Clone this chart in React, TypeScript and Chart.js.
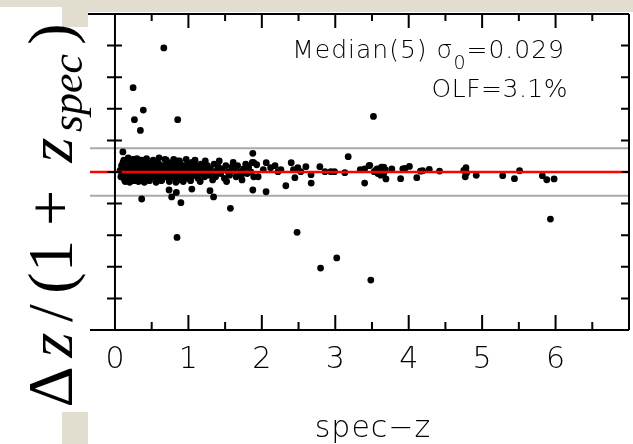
import React, { useEffect, useRef } from "react";
import { Chart, registerables } from "chart.js";

Chart.register(...registerables);

// ---- data ----
const clusterZ = [
  0.07, 0.08, 0.09, 0.10, 0.11, 0.11, 0.12, 0.13, 0.13, 0.14, 0.15, 0.16, 0.16, 0.17, 0.18, 0.19, 0.19, 0.20, 0.21, 0.21,
  0.22, 0.23, 0.23, 0.24, 0.25, 0.25, 0.26, 0.27, 0.27, 0.28, 0.29, 0.29, 0.30, 0.31, 0.31, 0.32, 0.33, 0.33, 0.34, 0.35,
  0.35, 0.36, 0.37, 0.37, 0.38, 0.39, 0.39, 0.40, 0.41, 0.41, 0.42, 0.43, 0.44, 0.44, 0.45, 0.46, 0.46, 0.47, 0.48, 0.48,
  0.49, 0.50,
  0.51, 0.52, 0.53, 0.54, 0.55, 0.56, 0.57, 0.58, 0.59, 0.60, 0.61, 0.62, 0.63, 0.64, 0.65, 0.66, 0.67, 0.68, 0.69, 0.70,
  0.71, 0.72, 0.73, 0.74, 0.75, 0.76, 0.77, 0.78, 0.79, 0.80, 0.81, 0.82, 0.83, 0.84, 0.85, 0.86, 0.87, 0.88, 0.89, 0.90,
  0.91, 0.92, 0.93, 0.94, 0.95, 0.96, 0.97, 0.98, 0.99,
  1.00, 1.02, 1.04, 1.05, 1.07, 1.08, 1.10, 1.12, 1.13, 1.15, 1.17, 1.18, 1.20, 1.22, 1.24, 1.26, 1.28, 1.30, 1.32, 1.35,
  1.37, 1.39, 1.41, 1.44, 1.46, 1.49, 1.51, 1.54, 1.56, 1.59, 1.62, 1.65, 1.67, 1.70, 1.72, 1.75, 1.78, 1.80, 1.82, 1.85,
  1.87, 1.89,
  0.12, 0.14, 0.18, 0.20, 0.24, 0.26, 0.30, 0.32, 0.36, 0.40, 0.43, 0.47, 0.52, 0.56, 0.60, 0.63, 0.70, 0.74, 0.80, 0.83,
  0.88, 0.93, 0.97, 1.03, 1.09, 1.16, 1.23, 1.33, 1.42, 1.52, 1.61, 1.73, 0.15, 0.22, 0.28, 0.34, 0.42, 0.53, 0.62, 0.72,
  0.82, 0.92,
  1.89, 1.93, 1.95, 2.02, 2.06, 2.12, 2.18, 2.22, 2.26, 2.40, 2.43, 2.45, 2.49, 2.53, 2.60, 2.67, 2.79, 2.86, 2.94, 2.99,
  3.13, 3.34, 3.40, 3.46, 3.53,
  3.47, 3.55, 3.57, 3.58, 3.60, 3.60, 3.62, 3.63, 3.64, 3.66, 3.66, 3.68, 3.69, 3.77, 3.89, 3.92, 3.95, 4.01, 4.11, 4.16,
  4.19, 4.28, 4.42, 4.75, 4.77, 4.78, 4.79, 4.92, 5.28, 5.44, 5.51, 5.82, 5.88, 5.98,
];
const clusterDz = [
  0.01, -0.03, 0.04, 0.00, -0.02, 0.06, 0.02, -0.05, 0.03, -0.01, 0.05, 0.01, -0.03, 0.07, 0.02, -0.02, 0.04, 0.00, -0.04, 0.06,
  0.01, -0.01, 0.03, 0.05, -0.03, 0.00, 0.02, -0.02, 0.08, 0.04, -0.04, 0.01, 0.03, -0.01, 0.06, 0.00, -0.03, 0.04, 0.02, -0.05,
  0.01, 0.05, -0.02, 0.03, 0.00, 0.07, -0.04, 0.02, -0.01, 0.04, 0.01, -0.03, 0.03, 0.06, 0.00, -0.02, 0.02, 0.05, -0.04, 0.01,
  0.03, -0.01,
  0.04, 0.00, -0.03, 0.02, 0.06, -0.01, 0.03, -0.04, 0.01, 0.05, -0.02, 0.02, 0.00, -0.05, 0.04, 0.01, -0.02, 0.08, 0.03, -0.03,
  0.00, 0.05, -0.01, 0.02, -0.04, 0.03, 0.00, 0.06, -0.02, 0.01, 0.04, -0.03, 0.02, 0.00, 0.07, -0.05, 0.03, -0.01, 0.05, 0.01,
  -0.03, 0.02, 0.04, -0.02, 0.00, 0.03, -0.04, 0.01, 0.05,
  -0.01, 0.03, -0.03, 0.06, 0.01, -0.02, 0.04, 0.00, -0.04, 0.02, 0.05, -0.01, 0.03, -0.03, 0.01, 0.04, -0.02, 0.02, 0.00, 0.05,
  -0.03, 0.01, 0.03, -0.01, 0.02, -0.04, 0.04, 0.00, -0.02, 0.03, 0.01, -0.03, 0.04, 0.00, -0.02, 0.02, 0.05, -0.01, 0.03, 0.00,
  0.06, -0.03,
  0.075, -0.06, 0.09, -0.065, 0.08, -0.055, 0.085, -0.06, 0.075, -0.065, 0.085, -0.055, 0.075, -0.065, 0.09, -0.055, 0.075, -0.06, 0.08, -0.065,
  0.07, -0.06, 0.08, -0.055, 0.075, -0.06, 0.07, -0.05, 0.07, -0.06, 0.06, -0.05, 0.02, -0.02, 0.015, -0.015, 0.025, -0.02, 0.035, -0.025,
  0.015, -0.015,
  0.059, 0.046, -0.03, 0.015, 0.059, 0.027, 0.04, 0.002, 0.015, 0.059, 0.015, -0.036, 0.027, 0.002, 0.034, -0.017, 0.034, 0.002, 0.002, 0.002,
  -0.004, 0.015, 0.02, 0.04, 0.002,
  0.042, 0.01, 0.02, -0.01, 0.00, 0.02, -0.02, 0.03, 0.015, -0.01, 0.03, 0.015, -0.044, 0.019, -0.042, 0.02, 0.022, 0.035, -0.036, 0.005,
  0.008, 0.017, 0.006, 0.01, -0.03, 0.027, -0.005, -0.021, -0.023, -0.042, 0.008, -0.023, -0.049, -0.044,
];
const outlierZ = [
  0.665, 0.247, 0.386, 0.265, 0.854, 0.346, 0.108, 1.877, 3.176, 3.52,
  0.364, 0.737, 0.772, 0.836, 0.898, 1.047, 1.294, 1.343, 1.572, 1.877, 2.058, 2.327, 2.672, 3.40,
  0.845, 2.48, 2.80, 3.02, 3.484, 5.93,
];
const outlierDz = [
  0.785, 0.534, 0.392, 0.331, 0.331, 0.263, 0.127, 0.118, 0.097, 0.352,
  -0.171, -0.114, -0.158, -0.129, -0.194, -0.108, -0.118, -0.158, -0.23, -0.114, -0.125, -0.087, -0.07, -0.07,
  -0.414, -0.382, -0.608, -0.544, -0.684, -0.298,
];
const xRange = [-0.34, 7];
const yRange = [-1, 1];
const xTickValues = [0, 1, 2, 3, 4, 5, 6];
const xMinorTicks = [0.5, 1, 1.5, 2, 2.5, 3, 3.5, 4, 4.5, 5, 5.5, 6, 6.5];
const yTickValues = [-0.8, -0.6, -0.4, -0.2, 0, 0.2, 0.4, 0.6, 0.8];
const outlierLimit = 0.15;
const medianLine = 0;

const BEIGE = "#e1decf";
const SANS = "'DejaVu Sans', sans-serif";
const SERIF = "'Liberation Serif', serif";

const decorPlugin = {
  id: "decor",
  beforeDraw(chart: any) {
    const ctx = chart.ctx;
    ctx.save();
    ctx.fillStyle = "#fff";
    ctx.fillRect(0, 0, chart.width, chart.height);
    ctx.fillStyle = BEIGE;
    ctx.fillRect(0, 0, 633, 7);
    ctx.fillRect(62, 0, 571, 12);
    ctx.fillRect(62, 0, 26, 27);
    ctx.fillRect(62, 412, 26, 32);
    ctx.restore();
  },
  afterDatasetsDraw(chart: any) {
    const ctx = chart.ctx;
    const xs = chart.scales.x;
    const ys = chart.scales.y;
    const { left, right, top, bottom } = chart.chartArea;
    ctx.save();
    ctx.strokeStyle = "#000";
    ctx.lineWidth = 2;
    ctx.beginPath();
    ctx.moveTo(left - 2, top);
    ctx.lineTo(right, top);
    ctx.moveTo(left, bottom);
    ctx.lineTo(right, bottom);
    ctx.moveTo(right, top);
    ctx.lineTo(right, bottom);
    const x0 = xs.getPixelForValue(0);
    ctx.moveTo(x0, top);
    ctx.lineTo(x0, bottom);
    for (const v of yTickValues) {
      const py = ys.getPixelForValue(v);
      ctx.moveTo(x0 - 8, py);
      ctx.lineTo(x0 + 7, py);
      ctx.moveTo(right - 8, py);
      ctx.lineTo(right, py);
    }
    for (const v of xMinorTicks) {
      const px = xs.getPixelForValue(v);
      const major = Number.isInteger(v);
      ctx.moveTo(px, top);
      ctx.lineTo(px, top + (major ? 14 : 7));
      ctx.moveTo(px, bottom);
      ctx.lineTo(px, bottom - (major ? 15 : 8));
    }
    ctx.stroke();
    ctx.restore();
  },
  afterDraw(chart: any) {
    const ctx = chart.ctx;
    const xs = chart.scales.x;
    ctx.save();
    ctx.fillStyle = "#000";
    ctx.textBaseline = "alphabetic";
    // annotation line 1, laid out sequentially and right-aligned
    const big = `200 25px ${SANS}`;
    const small = `200 19px ${SANS}`;
    ctx.letterSpacing = "1px";
    const segs: [string, string, number][] = [
      ["Median(5) \u03c3", big, 0],
      ["0", small, 11],
      ["=0.029", big, 0],
    ];
    let total = 0;
    for (const [t, f] of segs) {
      ctx.font = f;
      total += ctx.measureText(t).width;
    }
    let cx = 565 - total;
    ctx.textAlign = "left";
    for (const [t, f, dy] of segs) {
      ctx.font = f;
      ctx.fillText(t, cx, 58 + dy);
      cx += ctx.measureText(t).width;
    }
    ctx.font = big;
    ctx.letterSpacing = "0.5px";
    ctx.textAlign = "right";
    ctx.fillText("OLF=3.1%", 568, 97);
    // x title
    ctx.letterSpacing = "1px";
    ctx.textAlign = "center";
    ctx.textBaseline = "middle";
    ctx.font = `200 30px ${SANS}`;
    ctx.fillText("spec\u2212z", (xs.getPixelForValue(0) + xs.getPixelForValue(7)) / 2 + 1, 429);
    ctx.letterSpacing = "0px";
    // y title (rotated)
    ctx.textBaseline = "alphabetic";
    const pieces: [string, string, number, number][] = [
      ["\u0394", `64px ${SERIF}`, 387, 72],
      ["z", `italic 64px ${SERIF}`, 345, 72],
      ["/", `64px ${SERIF}`, 313, 72],
      ["(", `64px ${SERIF}`, 283, 72],
      ["1", `64px ${SERIF}`, 256, 72],
      ["+", `64px ${SERIF}`, 208, 72],
      ["z", `italic 64px ${SERIF}`, 150, 72],
      ["spec", `italic 44px ${SERIF}`, 93, 82],
      [")", `64px ${SERIF}`, 34, 72],
    ];
    for (const [t, f, cy, bx] of pieces) {
      ctx.save();
      ctx.font = f;
      ctx.translate(bx, cy);
      ctx.rotate(-Math.PI / 2);
      ctx.textAlign = "center";
      ctx.fillText(t, 0, 0);
      ctx.restore();
    }
    ctx.restore();
  },
};

export default function App() {
  const ref = useRef<HTMLCanvasElement | null>(null);
  useEffect(() => {
    if (!ref.current) return;
    const pts = clusterZ.map((z, i) => ({ x: z, y: clusterDz[i] }));
    const outs = outlierZ.map((z, i) => ({ x: z, y: outlierDz[i] }));
    const chart = new Chart(ref.current, {
      type: "scatter",
      data: {
        datasets: [
          {
            type: "line",
            data: [
              { x: xRange[0], y: medianLine },
              { x: xRange[1], y: medianLine },
            ],
            borderColor: "#ff0000",
            borderWidth: 2.5,
            pointRadius: 0,
            order: 0,
          } as any,
          {
            data: [...pts, ...outs],
            backgroundColor: "#000",
            borderWidth: 0,
            pointRadius: 3.4,
            order: 1,
          },
          {
            type: "line",
            data: [
              { x: xRange[0], y: outlierLimit },
              { x: xRange[1], y: outlierLimit },
            ],
            borderColor: "#a9a9a9",
            borderWidth: 2,
            pointRadius: 0,
            order: 2,
          } as any,
          {
            type: "line",
            data: [
              { x: xRange[0], y: -outlierLimit },
              { x: xRange[1], y: -outlierLimit },
            ],
            borderColor: "#a9a9a9",
            borderWidth: 2,
            pointRadius: 0,
            order: 2,
          } as any,
        ],
      },
      options: {
        animation: false,
        responsive: false,
        devicePixelRatio: 1,
        layout: { padding: { left: 90, right: 1, top: 14, bottom: 0 } },
        plugins: { legend: { display: false }, tooltip: { enabled: false } },
        scales: {
          x: {
            type: "linear",
            min: xRange[0],
            max: xRange[1],
            grid: { display: false, drawTicks: false },
            border: { display: false },
            afterFit: (s: any) => {
              s.height = 114;
            },
            afterBuildTicks: (s: any) => {
              s.ticks = xTickValues.map((v) => ({ value: v }));
            },
            ticks: {
              autoSkip: false,
              maxRotation: 0,
              padding: 12,
              color: "#000",
              font: { family: SANS, size: 30, weight: "200" as any },
              callback: (v: any) => String(v),
            },
          },
          y: {
            type: "linear",
            min: yRange[0],
            max: yRange[1],
            display: false,
          },
        },
      },
      plugins: [decorPlugin],
    });
    return () => chart.destroy();
  }, []);
  return (
    <div style={{ position: "absolute", left: 0, top: 0, width: 633, height: 444 }}>
      <canvas ref={ref} width={633} height={444} style={{ display: "block" }} />
    </div>
  );
}
